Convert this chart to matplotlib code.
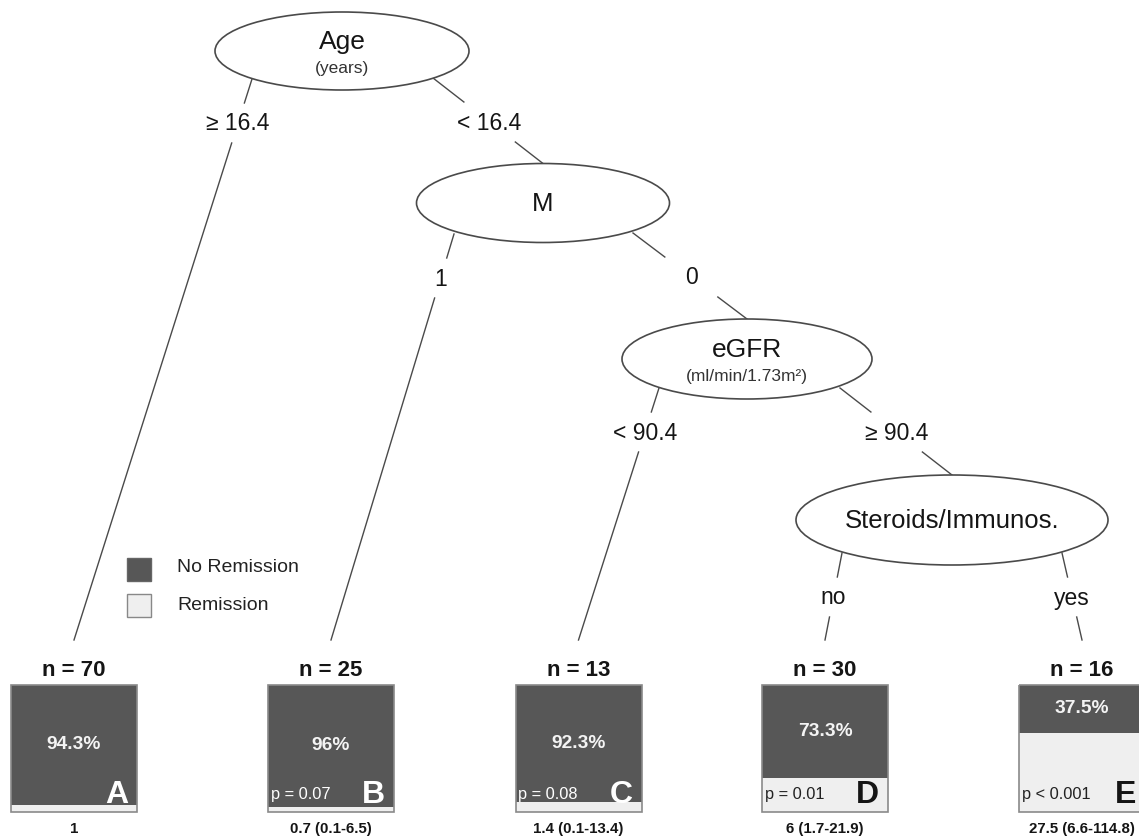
import numpy as np
import matplotlib
matplotlib.use("Agg")
import matplotlib.pyplot as plt
import matplotlib.patches as patches

plt.rcParams['font.family'] = ['Liberation Sans', 'DejaVu Sans']

# terminal nodes
n_obs = [70, 25, 13, 30, 16]
no_remission = [94.3, 96.0, 92.3, 73.3, 37.5]
node_letters = ["A", "B", "C", "D", "E"]
p_labels = ["", "p = 0.07", "p = 0.08", "p = 0.01", "p < 0.001"]
odds_ratio = ["1", "0.7 (0.1-6.5)", "1.4 (0.1-13.4)", "6 (1.7-21.9)", "27.5 (6.6-114.8)"]

# inner nodes and their splits
split_names = ["Age", "M", "eGFR", "Steroids/Immunos."]
split_units = ["(years)", "", "(ml/min/1.73m²)", ""]
split_labels = [("≥ 16.4", "< 16.4"), ("1", "0"), ("< 90.4", "≥ 90.4"), ("no", "yes")]

DARK = "#575757"
LIGHT = "#efefef"
INK = "#151515"

# layout in pixel units
inner_xy = [(342, 51), (543, 203), (747, 359), (952, 520)]
inner_wh = [(254, 78), (253, 79), (250, 80), (312, 90)]
leaf_x = [74, 331, 578.5, 825, 1082]
box_top, box_h, box_w = 685, 127, 126
leaf_line_end = 640
# (parent, child, start point on ellipse, is_leaf)
edges = [
    (0, 0, (252, 79), True), (0, 1, (433, 78), False),
    (1, 1, (454, 234), True), (1, 2, (633, 233), False),
    (2, 2, (659, 388), True), (2, 3, (840, 388), False),
    (3, 3, (842, 553), True), (3, 4, (1062, 553), True),
]

fig = plt.figure(figsize=(11.39, 8.39), dpi=100)
ax = fig.add_axes([0, 0, 1, 1])
ax.set_xlim(0, 1139)
ax.set_ylim(839, 0)
ax.axis('off')

# edges with a gap for the split label
side = [0, 0, 0, 0]
for parent, child, (x0, y0), leaf in edges:
    if leaf:
        x1, y1 = leaf_x[child], leaf_line_end
    else:
        cx, cy = inner_xy[child]
        x1, y1 = cx, cy - inner_wh[child][1] / 2
    slope = (x1 - x0) / (y1 - y0)
    ly = y0 + 44
    lx = x0 + slope * (ly - y0)
    ya, yb = ly - 20, ly + 20
    ax.plot([x0, x0 + slope * (ya - y0)], [y0, ya], color="#4a4a4a", lw=1.0, zorder=1)
    ax.plot([x0 + slope * (yb - y0), x1], [yb, y1], color="#4a4a4a", lw=1.0, zorder=1)
    ax.text(lx, ly + 1, split_labels[parent][side[parent]], ha='center', va='center',
            fontsize=16.5, color=INK)
    side[parent] += 1

# inner nodes
for i, ((cx, cy), (w, h)) in enumerate(zip(inner_xy, inner_wh)):
    ax.add_patch(patches.Ellipse((cx, cy), w, h, facecolor='white',
                                 edgecolor='#4a4a4a', lw=1.2, zorder=2))
    if split_units[i]:
        ax.text(cx, cy - 9, split_names[i], ha='center', va='center', fontsize=19, color=INK, zorder=3)
        ax.text(cx, cy + 17, split_units[i], ha='center', va='center', fontsize=12.5, color="#333333", zorder=3)
    else:
        ax.text(cx, cy + 1, split_names[i], ha='center', va='center', fontsize=18.5, color=INK, zorder=3)

# terminal nodes: stacked bars
dark_h = [box_h * v / 100 for v in no_remission]
light_h = [box_h - d for d in dark_h]
ax.bar(leaf_x, dark_h, width=box_w, bottom=box_top, color=DARK, zorder=2)
ax.bar(leaf_x, light_h, width=box_w, bottom=[box_top + d for d in dark_h],
       color=LIGHT, zorder=2)
for i, x in enumerate(leaf_x):
    ax.add_patch(patches.Rectangle((x - box_w / 2, box_top), box_w, box_h, fill=False,
                                   edgecolor='#8a8a8a', lw=1.2, zorder=3))
    ax.text(x, 671, f"n = {n_obs[i]}", ha='center', va='center', fontsize=16,
            fontweight='bold', color=INK)
    ax.text(x, box_top + dark_h[i] / 2, f"{no_remission[i]:g}%", ha='center', va='center',
            fontsize=13.8, fontweight='bold', color='#f4f4f4', zorder=4)
    on_light = light_h[i] > 25
    ax.text(x + box_w / 2 - 9, box_top + box_h - 9, node_letters[i], ha='right',
            va='baseline', fontsize=23, fontweight='bold',
            color=INK if on_light else 'white', zorder=4)
    if p_labels[i]:
        ax.text(x - box_w / 2 + 3, box_top + box_h - 13, p_labels[i], ha='left',
                va='baseline', fontsize=11.8, color="#222222" if on_light else 'white', zorder=4)
    ax.text(x, 829, odds_ratio[i], ha='center', va='center', fontsize=10.8,
            fontweight='bold', color=INK)

# legend
ax.add_patch(patches.Rectangle((127, 558), 24, 23, facecolor=DARK, edgecolor='#666666', lw=1))
ax.add_patch(patches.Rectangle((127, 594), 24, 23, facecolor=LIGHT, edgecolor='#888888', lw=1))
ax.text(177, 568, "No Remission", ha='left', va='center', fontsize=14, color="#222222")
ax.text(177, 605, "Remission", ha='left', va='center', fontsize=14, color="#222222")

fig.savefig("out.png", dpi=100)
